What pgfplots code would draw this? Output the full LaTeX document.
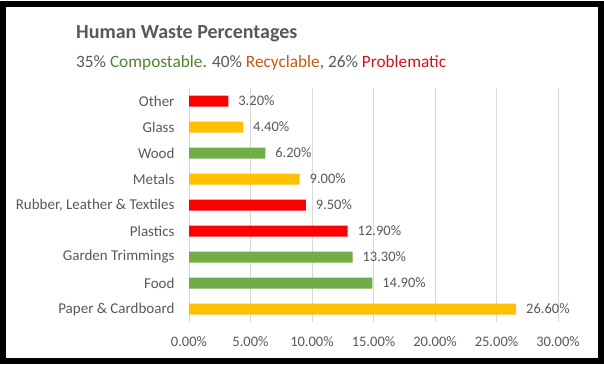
\documentclass[border=0pt]{standalone}
\usepackage{pgfplots}
\pgfplotsset{compat=1.18}
\usepackage{fontspec}
\setmainfont{Carlito}
\definecolor{txtgray}{HTML}{595959}
\definecolor{gridgray}{HTML}{D9D9D9}
\definecolor{cred}{HTML}{FF0000}
\definecolor{cyellow}{HTML}{FFC000}
\definecolor{cgreen}{HTML}{70AD47}
\definecolor{sgreen}{HTML}{548235}
\definecolor{sorange}{HTML}{C55A11}
\definecolor{sred}{HTML}{D0141E}
\begin{document}
\begin{tikzpicture}
\fill[white] (0pt,0pt) rectangle (604pt,365pt);
\useasboundingbox (0pt,0pt) rectangle (604pt,365pt);
\begin{axis}[
  at={(189pt,43pt)}, anchor=south west,
  scale only axis, width=369pt, height=234pt,
  xbar, bar width=11pt, bar shift=0pt,
  xmin=0, xmax=30, ymin=-0.5, ymax=8.5,
  xtick={0,5,...,30},
  xticklabel={\pgfmathprintnumber[fixed,fixed zerofill,precision=2]{\tick}\%},
  ytick={0,...,8},
  yticklabels={Paper \& Cardboard,Food,Garden Trimmings,Plastics,{Rubber, Leather \& Textiles},Metals,Wood,Glass,Other},
  /pgf/number format/assume math mode=true,
  tick label style={font=\fontsize{14.5}{17}\selectfont,text=txtgray},
  yticklabel style={font=\fontsize{15}{18}\selectfont,xshift=-11pt},
  xticklabel style={yshift=-11pt},
  axis line style={draw=none},
  major tick length=0pt,
  xmajorgrids, grid style={gridgray, line width=0.8pt},
  nodes near coords={\pgfmathprintnumber[fixed,fixed zerofill,precision=2]{\pgfplotspointmeta}\%},
  nodes near coords style={font=\fontsize{14.5}{17}\selectfont,text=txtgray,anchor=west,xshift=6.5pt},
  every axis plot/.append style={draw=none},
]
\addplot[fill=cred] coordinates {(12.9,3) (9.5,4) (3.2,8)};
\addplot[fill=cyellow] coordinates {(26.6,0) (9.0,5) (4.4,7)};
\addplot[fill=cgreen] coordinates {(14.9,1) (13.3,2) (6.2,6)};
\end{axis}
\draw[line width=6pt,black] (3pt,4.5pt) rectangle (600.5pt,361pt);
\node[anchor=west,font=\fontsize{20}{24}\selectfont\bfseries,text=txtgray,inner sep=0pt] at (76pt,331pt) {Human Waste Percentages};
\node[anchor=west,font=\fontsize{17.3}{21}\selectfont,text=txtgray,inner sep=0pt] at (76pt,302pt) {35\% \textcolor{sgreen}{Compostable}. 40\% \textcolor{sorange}{Recyclable}, 26\% \textcolor{sred}{Problematic}};
\end{tikzpicture}
\end{document}
